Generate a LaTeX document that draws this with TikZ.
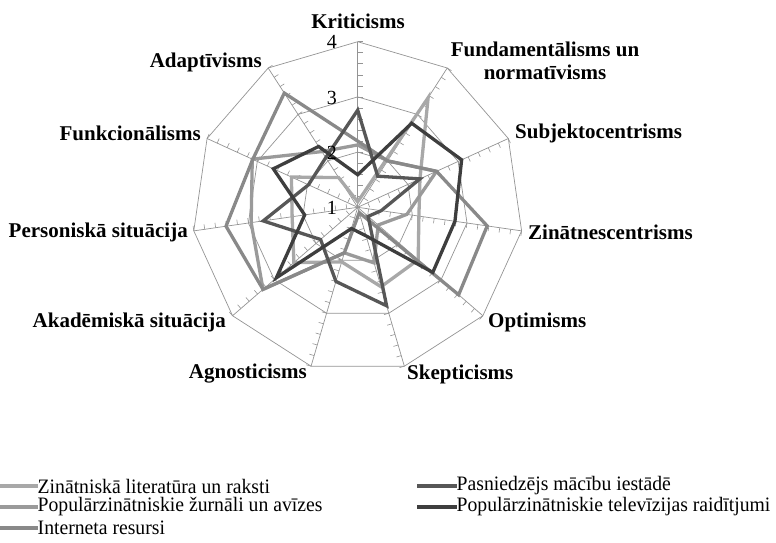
\documentclass[tikz,border=0pt]{standalone}
\usepackage{fontspec}
\setmainfont{Liberation Serif}
\newfontfamily\legfont[FakeStretch=0.96]{Liberation Serif}
\begin{document}
\begin{tikzpicture}[x=1pt,y=-1pt,
  grid/.style={draw=black!42,line width=0.7pt},
  tickmark/.style={draw=black!42,line width=0.6pt},
  ser/.style={line width=3.3pt,line join=miter},
  cat/.style={font=\fontsize{21}{23}\selectfont\bfseries,inner sep=0pt},
  num/.style={font=\fontsize{20}{20}\selectfont,inner sep=0pt,anchor=east},
  leg/.style={font=\legfont\fontsize{20.5}{21}\selectfont,inner sep=0pt,anchor=west}]
\definecolor{cA}{HTML}{A8A8A8}
\definecolor{cB}{HTML}{9A9A9A}
\definecolor{cC}{HTML}{898989}
\definecolor{cD}{HTML}{575757}
\definecolor{cE}{HTML}{3E3E3E}
\useasboundingbox (0,0) rectangle (776,543);
\def\cx{357.7}\def\cy{207.3}\def\uu{55.2}
\coordinate (c) at (\cx,\cy);
% rings
\foreach \v in {2,3,4}{
  \foreach \k in {0,...,10}{
    \coordinate (r\v-\k) at ({\cx+(\v-1)*\uu*sin(\k*360/11)},{\cy-(\v-1)*\uu*cos(\k*360/11)});
  }
  \draw[grid] (r\v-0) \foreach \k in {1,...,10}{ -- (r\v-\k) } -- cycle;
}
% spokes and ticks
\foreach \k in {0,...,10}{
  \draw[grid] (c) -- (r4-\k);
  \foreach \t in {1,...,15}{
    \draw[tickmark] ({\cx+\t*0.2*\uu*sin(\k*360/11)},{\cy-\t*0.2*\uu*cos(\k*360/11)}) -- ++({5*cos(\k*360/11)},{5*sin(\k*360/11)});
  }
}
% series
\newcommand{\series}[3]{%
  \foreach \v [count=\k from 0] in {#3}{
    \coordinate (#1\k) at ({\cx+(\v-1)*\uu*sin(\k*360/11)},{\cy-(\v-1)*\uu*cos(\k*360/11)});
  }
  \draw[ser,#2] (#10) \foreach \k in {1,...,10}{ -- (#1\k) } -- cycle;}
\series{sa}{cA}{1.1,3.36,2.24,2.12,2.45,2.5,2.03,2.53,2.2,2.32,1.64}
\series{sb}{cB}{2.13,2.0,2.57,1.9,1.49,2.05,1.86,3.27,2.95,3.1,2.2}
\series{sc}{cC}{2.2,2.0,2.57,3.37,3.42,1.1,1.86,3.27,3.41,3.09,3.46}
\series{sd}{cD}{2.76,1.67,2.24,1.43,1.25,2.86,2.40,1.89,2.73,1.98,2.07}
\series{se}{cE}{1.59,2.81,3.07,2.78,2.80,1.54,1.40,2.95,1.97,2.68,2.31}
% axis numbers
\node[num] (n1) at (337,208) {1};
\node[num] (n2) at (337,153) {2};
\node[num] (n3) at (337,98) {3};
\node[num] (n4) at (337,42) {4};
% category labels
\node[cat] (l0) at (358,21) {Kriticisms};
\node[cat,align=center] (l1) at (545,61) {Fundamentālisms un\\normatīvisms};
\node[cat,anchor=west] (l2) at (515,133) {Subjektocentrisms};
\node[cat,anchor=west] (l3) at (528,232) {Zinātnescentrisms};
\node[cat,anchor=west] (l4) at (488,322) {Optimisms};
\node[cat,anchor=west] (l5) at (407,374) {Skepticisms};
\node[cat,anchor=east] (l6) at (307,374) {Agnosticisms};
\node[cat,anchor=east] (l7) at (226,322) {Akadēmiskā situācija};
\node[cat,anchor=east] (l8) at (188,232) {Personiskā situācija};
\node[cat,anchor=east] (l9) at (201,133) {Funkcionālisms};
\node[cat,anchor=east] (l10) at (262,62) {Adaptīvisms};
% legend
\foreach \c/\y/\t [count=\i] in {cA/486/{Zinātniskā literatūra un raksti},cB/507/{Populārzinātniskie žurnāli un avīzes},cC/528/{Interneta resursi}}{
  \coordinate (ls\i) at (0,\y);
  \node[leg] (lt\i) at (37.5,\y) {\t};
  \draw[\c,line width=3.3pt] (ls\i) -- (lt\i.west);
}
\foreach \c/\y/\t [count=\i] in {cD/486/{Pasniedzējs mācību iestādē},cE/507/{Populārzinātniskie televīzijas raidītjumi}}{
  \coordinate (rs\i) at (417,\y);
  \node[leg] (rt\i) at (456.5,\y) {\t};
  \draw[\c,line width=3.3pt] (rs\i) -- (rt\i.west);
}
\end{tikzpicture}
\end{document}
